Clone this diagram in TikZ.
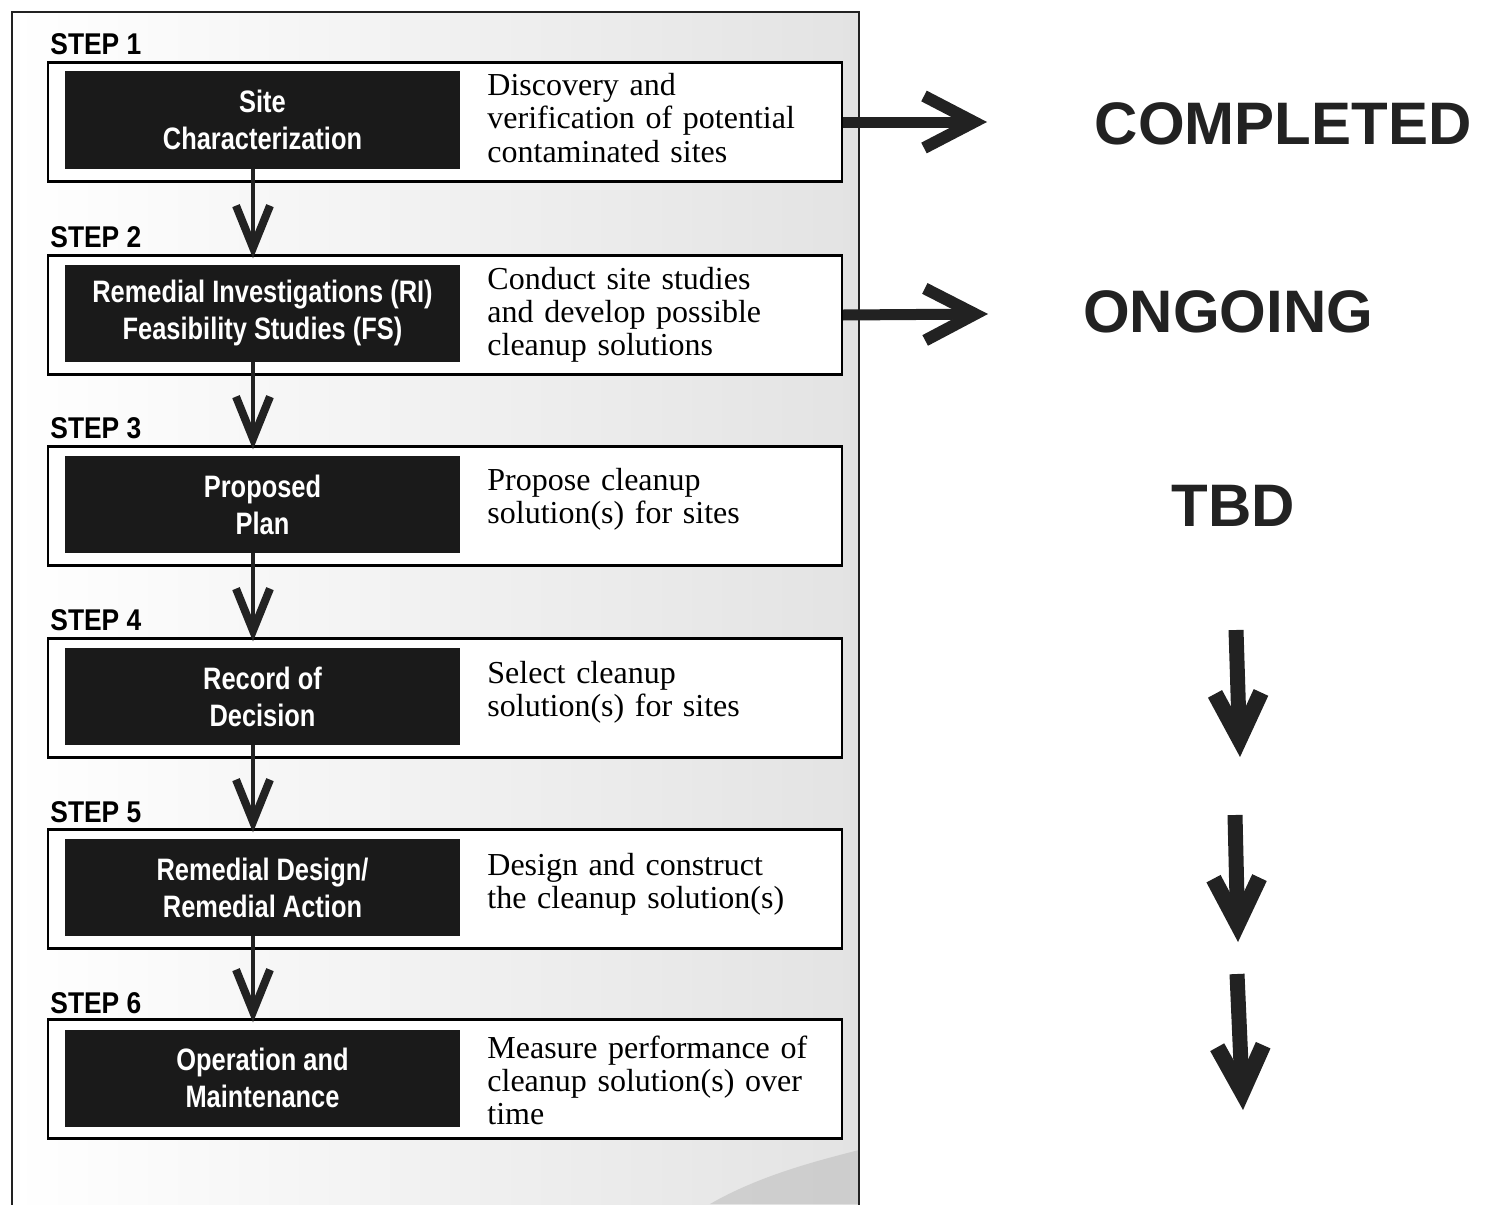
\documentclass[tikz,border=0pt]{standalone}
\usepackage{fontspec}
\setmainfont{Liberation Serif}
\newfontfamily\condsans[FakeStretch=0.82]{Liberation Sans}
\newfontfamily\stepsans[FakeStretch=0.88]{Liberation Sans}
\newfontfamily\plainsans{Liberation Sans}
\usetikzlibrary{arrows.meta,calc}
\definecolor{boxblack}{HTML}{1A1A1A}
\definecolor{inkblack}{HTML}{222222}
\tikzset{
  whitebox/.style={draw=black, line width=1.2pt, fill=white, minimum width=397pt, minimum height=59.5pt, inner sep=0pt},
  blackbox/.style={fill=boxblack, minimum width=197.5pt, minimum height=48.5pt, inner sep=0pt, text=white, align=center,
    font=\condsans\bfseries\fontsize{15.5}{18.5}\selectfont},
  steplabel/.style={anchor=base west, inner sep=0pt, font=\stepsans\bfseries\fontsize{15}{17}\selectfont},
  desc/.style={anchor=base west, inner sep=0pt, text width=210pt, align=left, font=\fontsize{16}{16.5}\selectfont},
  status/.style={anchor=base, inner sep=0pt, text=inkblack, font=\plainsans\bfseries\fontsize{30}{36}\selectfont},
  flowarrow/.style={draw=inkblack, line width=2pt, shorten >=-2pt, -{Straight Barb[sharp, length=21pt, width=17pt, line width=4pt]}},
  sidearrow/.style={draw=inkblack, line width=5.5pt, -{Straight Barb[sharp, length=25pt, width=26pt, line width=6pt]}},
  downarrow/.style={draw=inkblack, line width=7.5pt, -{Straight Barb[sharp, length=23pt, width=23pt, line width=8pt]}},
}
\begin{document}
\begin{tikzpicture}[x=0.5pt, y=-0.5pt]
\useasboundingbox (0,0) rectangle (1491,1204);
% frame with light shading
\shade[left color=white, right color=gray!22] (12,12) rectangle (859,1204);
\fill[gray!50, opacity=0.6] (710,1204) .. controls (760,1175) and (820,1160) .. (859,1150) -- (859,1204) -- cycle;
\draw[line width=1pt, draw=inkblack] (12,1215) -- (12,12) -- (859,12) -- (859,1215);

% white row boxes
\node[whitebox] (w1) at (445,122) {};
\node[whitebox] (w2) at (445,315) {};
\node[whitebox] (w3) at (445,506) {};
\node[whitebox] (w4) at (445,698) {};
\node[whitebox] (w5) at (445,889) {};
\node[whitebox] (w6) at (445,1079) {};

% step labels
\node[steplabel] (s1) at (50,55) {STEP 1};
\node[steplabel] (s2) at (50,247) {STEP 2};
\node[steplabel] (s3) at (50,438) {STEP 3};
\node[steplabel] (s4) at (50,630) {STEP 4};
\node[steplabel] (s5) at (50,822) {STEP 5};
\node[steplabel] (s6) at (50,1013) {STEP 6};

% black boxes
\node[blackbox] (b1) at (262.5,120) {Site\\Characterization};
\node[blackbox] (b2) at (262.5,313) {Remedial Investigations (RI)\\Feasibility Studies (FS)};
\node[blackbox] (b3) at (262.5,504.5) {Proposed\\Plan};
\node[blackbox] (b4) at (262.5,696.5) {Record of\\Decision};
\node[blackbox] (b5) at (262.5,887.5) {Remedial Design/\\Remedial Action};
\node[blackbox] (b6) at (262.5,1078) {Operation and\\Maintenance};

% descriptions
\node[desc] (d1) at (487,96) {Discovery and\\verification of potential\\contaminated sites};
\node[desc] (d2) at (487,289) {Conduct site studies\\and develop possible\\cleanup solutions};
\node[desc] (d3) at (487,490) {Propose cleanup\\solution(s) for sites};
\node[desc] (d4) at (487,683) {Select cleanup\\solution(s) for sites};
\node[desc] (d5) at (487,875) {Design and construct\\the cleanup solution(s)};
\node[desc] (d6) at (487,1058) {Measure performance of\\cleanup solution(s) over\\time};

% flow arrows
\coordinate (ax) at (253,0);
\draw[flowarrow] (b1.south -| ax) -- (w2.north -| ax);
\draw[flowarrow] (b2.south -| ax) -- (w3.north -| ax);
\draw[flowarrow] (b3.south -| ax) -- (w4.north -| ax);
\draw[flowarrow] (b4.south -| ax) -- (w5.north -| ax);
\draw[flowarrow] (b5.south -| ax) -- (w6.north -| ax);

% status column
\node[status] (c1) at (1283,144) {COMPLETED};
\node[status] (c2) at (1228,332) {ONGOING};
\node[status] (c3) at (1233,526) {TBD};

\coordinate (h1) at (987,122);
\coordinate (h2) at (988,314);
\draw[sidearrow] (w1.east) -- (h1);
\draw[sidearrow] (w2.east) -- (h2);

\coordinate (v1a) at (1236,630);
\coordinate (v1b) at (1240,757);
\coordinate (v2a) at (1235,815);
\coordinate (v2b) at (1238,942);
\coordinate (v3a) at (1237,974);
\coordinate (v3b) at (1243,1110);
\draw[downarrow] (v1a) -- (v1b);
\draw[downarrow] (v2a) -- (v2b);
\draw[downarrow] (v3a) -- (v3b);
\end{tikzpicture}
\end{document}
